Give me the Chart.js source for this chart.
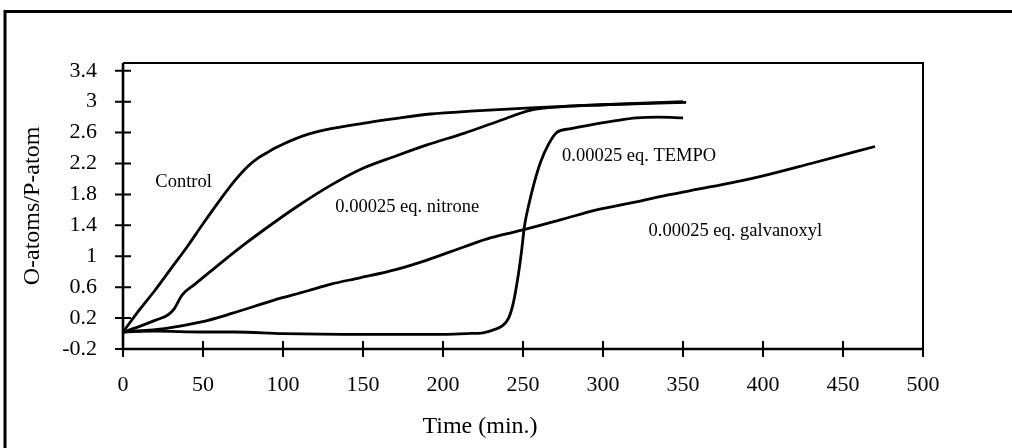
<!DOCTYPE html>
<html><head><meta charset="utf-8">
<script src="https://cdn.jsdelivr.net/npm/chart.js@4"></script>
<style>html,body{margin:0;padding:0;background:#fff;}canvas{display:block;}</style>
</head><body>
<canvas id="c" width="1012" height="448"></canvas>
<script>
// ---- data ----
const controlTime   = [0, 10, 20, 30, 40, 50, 60, 70, 75, 80, 85, 90, 95, 100, 113, 130, 150, 170, 192, 220, 255, 275, 300, 352];
const controlValues = [0.02, 0.30, 0.56, 0.84, 1.12, 1.42, 1.71, 1.98, 2.10, 2.20, 2.28, 2.34, 2.40, 2.45, 2.56, 2.65, 2.72, 2.78, 2.84, 2.88, 2.92, 2.94, 2.96, 2.99];

const nitroneTime   = [0, 10, 20, 28, 32, 37, 45, 58, 75, 94, 110, 130, 148, 171, 190, 213, 235, 255, 275, 300, 350];
const nitroneValues = [0.02, 0.09, 0.17, 0.24, 0.32, 0.50, 0.64, 0.86, 1.14, 1.43, 1.66, 1.92, 2.12, 2.30, 2.44, 2.59, 2.75, 2.89, 2.935, 2.96, 3.0];

const tempoTime   = [0, 20, 50, 70, 100, 150, 200, 215, 225, 232, 237, 241, 244, 247, 249, 251, 254, 257, 261, 266, 271, 280, 290, 307, 321, 335, 350];
const tempoValues = [0.02, 0.03, 0.02, 0.02, 0.0, -0.01, -0.01, 0.0, 0.01, 0.05, 0.10, 0.20, 0.40, 0.75, 1.05, 1.40, 1.70, 1.95, 2.22, 2.45, 2.60, 2.65, 2.69, 2.75, 2.79, 2.80, 2.79];

const galvTime   = [0, 26, 49, 68, 94, 115, 130, 148, 171, 190, 213, 230, 250, 275, 296, 320, 340, 360, 380, 400, 430, 470];
const galvValues = [0.02, 0.065, 0.15, 0.26, 0.43, 0.55, 0.64, 0.72, 0.83, 0.95, 1.12, 1.24, 1.34, 1.48, 1.60, 1.70, 1.79, 1.87, 1.95, 2.04, 2.20, 2.42];

const xTickValues = [0, 50, 100, 150, 200, 250, 300, 350, 400, 450, 500];
const yTickValues = [-0.2, 0.2, 0.6, 1, 1.4, 1.8, 2.2, 2.6, 3, 3.4];

const seriesNames = ['Control', '0.00025 eq. nitrone', '0.00025 eq. TEMPO', '0.00025 eq. galvanoxyl'];
const labelAnchorTime  = [20.2, 132.7, 274.4, 328.5];
const labelAnchorValue = [1.965, 1.64, 2.29, 1.32];

const xTitle = 'Time (min.)';
const yTitle = 'O-atoms/P-atom';

// ---- drawing ----
const SERIF = '"Liberation Serif", "DejaVu Serif", serif';
function pts(xs, ys) { return xs.map((x, i) => ({x: x, y: ys[i]})); }
function ds(name, xs, ys) {
  return {label: name, data: pts(xs, ys), showLine: true, borderColor: '#000', borderWidth: 2.8,
          pointRadius: 0, fill: false, cubicInterpolationMode: 'monotone'};
}

const decor = {
  id: 'decor',
  afterDraw(chart) {
    const ctx = chart.ctx, a = chart.chartArea;
    const xs = chart.scales.x, ys = chart.scales.y;
    ctx.save();
    ctx.strokeStyle = '#000';
    // outer frame (top + left visible)
    ctx.lineWidth = 3;
    ctx.beginPath();
    ctx.moveTo(5, 448); ctx.lineTo(5, 11.5); ctx.lineTo(1012, 11.5);
    ctx.stroke();
    // plot box top/right
    ctx.lineWidth = 2;
    ctx.beginPath();
    ctx.moveTo(a.left, a.top); ctx.lineTo(a.right, a.top); ctx.lineTo(a.right, a.bottom);
    ctx.stroke();
    // axes
    ctx.lineWidth = 2.6;
    ctx.beginPath();
    ctx.moveTo(a.left, a.top); ctx.lineTo(a.left, a.bottom); ctx.lineTo(a.right, a.bottom);
    ctx.stroke();
    // tick marks crossing axes
    ctx.lineWidth = 2;
    ctx.beginPath();
    yTickValues.forEach(v => { const y = ys.getPixelForValue(v); ctx.moveTo(a.left - 8, y); ctx.lineTo(a.left + 8, y); });
    xTickValues.forEach(v => { const x = xs.getPixelForValue(v); ctx.moveTo(x, a.bottom - 8); ctx.lineTo(x, a.bottom + 8); });
    ctx.stroke();
    // series labels
    ctx.fillStyle = '#000';
    ctx.font = '18.5px ' + SERIF;
    ctx.textAlign = 'left'; ctx.textBaseline = 'middle';
    seriesNames.forEach((n, i) => {
      ctx.fillText(n, xs.getPixelForValue(labelAnchorTime[i]), ys.getPixelForValue(labelAnchorValue[i]));
    });
    // axis titles
    ctx.font = '24px ' + SERIF;
    ctx.textAlign = 'center';
    ctx.fillText(xTitle, 480, 427);
    ctx.translate(33, (a.top + a.bottom) / 2);
    ctx.rotate(-Math.PI / 2);
    ctx.fillText(yTitle, 0, 0);
    ctx.restore();
  }
};

new Chart(document.getElementById('c'), {
  type: 'scatter',
  data: {datasets: [
    ds(seriesNames[0], controlTime, controlValues),
    ds(seriesNames[1], nitroneTime, nitroneValues),
    ds(seriesNames[2], tempoTime, tempoValues),
    ds(seriesNames[3], galvTime, galvValues)
  ]},
  options: {
    responsive: false, animation: false,
    layout: {padding: {top: 63, right: 89, left: 0, bottom: 0}},
    plugins: {legend: {display: false}, tooltip: {enabled: false}},
    scales: {
      x: {type: 'linear', min: 0, max: 500,
          afterBuildTicks: s => { s.ticks = xTickValues.map(v => ({value: v})); },
          afterFit: s => { s.height = 99; },
          grid: {display: false, drawTicks: false}, border: {display: false},
          ticks: {color: '#000', font: {family: SERIF, size: 22}, padding: 23, maxRotation: 0, autoSkip: false}},
      y: {type: 'linear', min: -0.2, max: 3.5,
          afterBuildTicks: s => { s.ticks = yTickValues.map(v => ({value: v})); },
          afterFit: s => { s.width = 123; },
          grid: {display: false, drawTicks: false}, border: {display: false},
          ticks: {color: '#000', font: {family: SERIF, size: 22}, padding: 26, autoSkip: false,
                  callback: v => String(Math.round(v * 10) / 10)}}
    }
  },
  plugins: [decor]
});
</script>
</body></html>
